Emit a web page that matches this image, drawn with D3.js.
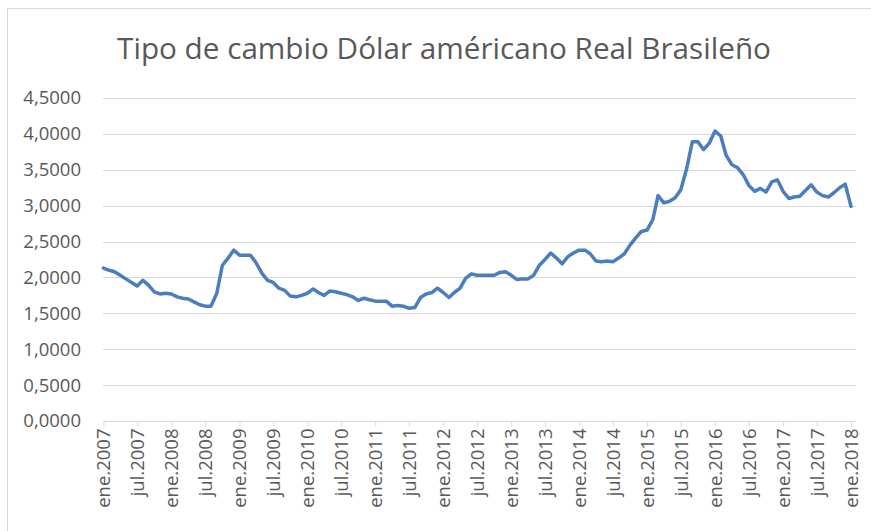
<!DOCTYPE html>
<html>
<head>
<meta charset="utf-8">
<script src="https://cdn.jsdelivr.net/npm/d3@7"></script>
<style>
  html, body { margin: 0; padding: 0; background: #fff; }
  svg text { font-family: "Open Sans", sans-serif; fill: #595959; }
</style>
</head>
<body>
<svg id="chart" width="871" height="531"></svg>
<script>
const title = "Tipo de cambio Dólar américano Real Brasileño";
const startMonth = new Date(2007, 0, 1);

// monthly values, ene.2007 .. ene.2018
const rates = [
  2.13, 2.10, 2.08, 2.03, 1.98, 1.93, 1.88, 1.96, 1.89, 1.80, 1.77, 1.78,
  1.77, 1.73, 1.71, 1.70, 1.66, 1.62, 1.60, 1.60, 1.78, 2.17, 2.27, 2.38,
  2.31, 2.31, 2.31, 2.20, 2.06, 1.96, 1.93, 1.85, 1.82, 1.74, 1.73, 1.75,
  1.78, 1.84, 1.79, 1.75, 1.81, 1.80, 1.78, 1.76, 1.73, 1.68, 1.71, 1.69,
  1.67, 1.67, 1.67, 1.60, 1.61, 1.60, 1.57, 1.58, 1.72, 1.77, 1.79, 1.85,
  1.79, 1.72, 1.79, 1.85, 1.99, 2.05, 2.03, 2.03, 2.03, 2.03, 2.07, 2.08,
  2.03, 1.97, 1.98, 1.98, 2.03, 2.17, 2.25, 2.34, 2.27, 2.19, 2.29, 2.34,
  2.38, 2.38, 2.33, 2.23, 2.22, 2.23, 2.22, 2.27, 2.33, 2.45, 2.55, 2.64,
  2.66, 2.81, 3.14, 3.04, 3.06, 3.11, 3.22, 3.51, 3.89, 3.89, 3.78, 3.87,
  4.04, 3.97, 3.70, 3.57, 3.53, 3.43, 3.28, 3.20, 3.24, 3.19, 3.33, 3.36,
  3.20, 3.10, 3.12, 3.13, 3.21, 3.29, 3.19, 3.14, 3.12, 3.18, 3.25, 3.30,
  2.99
];

const xTickLabels = [
  "ene.2007", "jul.2007", "ene.2008", "jul.2008", "ene.2009", "jul.2009",
  "ene.2010", "jul.2010", "ene.2011", "jul.2011", "ene.2012", "jul.2012",
  "ene.2013", "jul.2013", "ene.2014", "jul.2014", "ene.2015", "jul.2015",
  "ene.2016", "jul.2016", "ene.2017", "jul.2017", "ene.2018"
];
const yTicks = [0, 0.5, 1, 1.5, 2, 2.5, 3, 3.5, 4, 4.5];

const data = rates.map((v, i) => ({ date: d3.timeMonth.offset(startMonth, i), value: v }));
const tickDates = xTickLabels.map((_, i) => d3.timeMonth.offset(startMonth, i * 6));

const svg = d3.select("#chart");

// chart frame
svg.append("rect")
  .attr("x", 7.5).attr("y", 8.5)
  .attr("width", 880).attr("height", 540)
  .attr("fill", "#fff")
  .attr("stroke", "#d9d9d9");

svg.append("text")
  .attr("x", 444).attr("y", 59)
  .attr("text-anchor", "middle")
  .style("font-size", "29.7px")
  .text(title);

const x = d3.scaleTime()
  .domain([data[0].date, data[data.length - 1].date])
  .range([103.5, 851]);

const y = d3.scaleLinear()
  .domain([0, 4.5])
  .range([421, 98]);

const gridLeft = 103, gridRight = 856;

// gridlines
svg.append("g")
  .selectAll("line")
  .data(yTicks.filter(d => d > 0))
  .enter().append("line")
  .attr("x1", gridLeft).attr("x2", gridRight)
  .attr("y1", d => Math.round(y(d)) + 0.5)
  .attr("y2", d => Math.round(y(d)) + 0.5)
  .attr("stroke", "#d9d9d9")
  .attr("stroke-width", 1);

// y-axis labels
const yAxis = svg.append("g")
  .attr("transform", `translate(${gridLeft},0)`)
  .call(d3.axisLeft(y)
    .tickValues(yTicks)
    .tickSize(0)
    .tickPadding(22)
    .tickFormat(d => d.toFixed(4).replace(".", ",")));
yAxis.select(".domain").remove();
yAxis.selectAll("text")
  .style("font-size", "18.5px")
  .style("fill", "#595959");

// x-axis
const xAxis = svg.append("g")
  .attr("transform", `translate(0,${Math.round(y(0)) + 0.5})`)
  .call(d3.axisBottom(x)
    .tickValues(tickDates)
    .tickSize(5)
    .tickSizeOuter(0)
    .tickFormat((d, i) => xTickLabels[i]));
xAxis.select(".domain")
  .attr("d", `M${gridLeft},0H${gridRight}`)
  .attr("stroke", "#d9d9d9");
xAxis.selectAll(".tick line").attr("stroke", "#d9d9d9");
xAxis.selectAll("text")
  .attr("transform", "rotate(-90)")
  .attr("text-anchor", "end")
  .attr("x", -7)
  .attr("y", 0)
  .attr("dy", "0.35em")
  .style("font-size", "18.5px")
  .style("fill", "#595959");

// series line
const line = d3.line()
  .x(d => x(d.date))
  .y(d => y(d.value));

svg.append("path")
  .datum(data)
  .attr("fill", "none")
  .attr("stroke", "#4a7ebf")
  .attr("stroke-width", 3.5)
  .attr("stroke-linejoin", "round")
  .attr("stroke-linecap", "round")
  .attr("d", line);
</script>
</body>
</html>
